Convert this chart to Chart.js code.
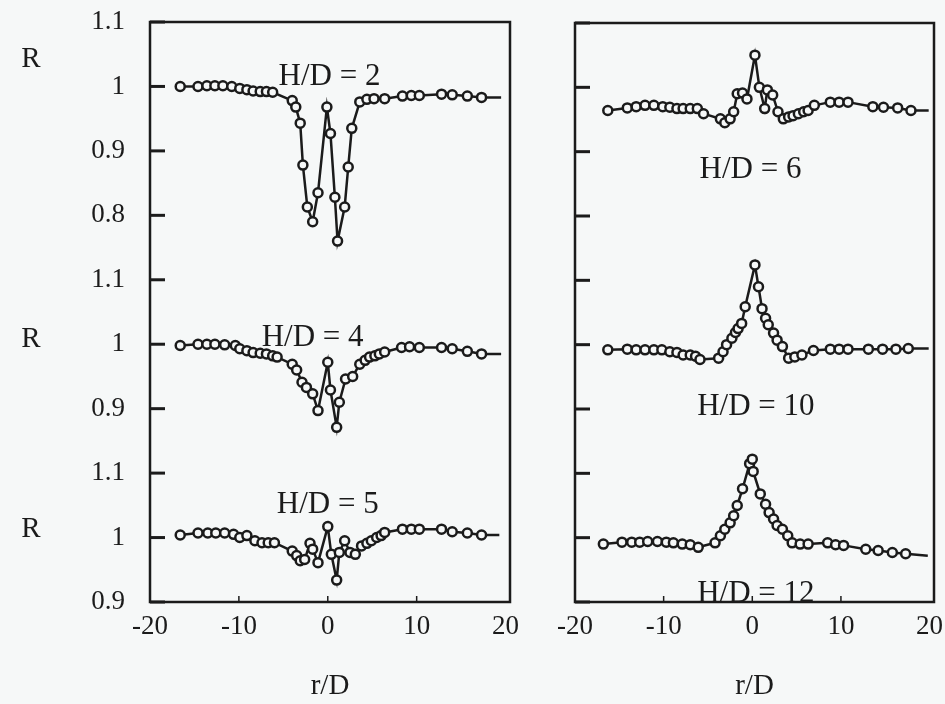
<!DOCTYPE html>
<html>
<head>
<meta charset="utf-8">
<script src="https://cdn.jsdelivr.net/npm/chart.js@4.4.1/dist/chart.umd.min.js"></script>
<style>
  html, body { margin: 0; padding: 0; background: #f6f8f8; }
  .wrap { position: relative; width: 945px; height: 704px; }
  canvas { position: absolute; left: 0; top: 0; }
</style>
</head>
<body>
<div class="wrap">
  <canvas id="leftChart" width="945" height="704"></canvas>
  <canvas id="rightChart" width="945" height="704"></canvas>
</div>
<script>
// r/D positions and R values (last point = where the line runs on past the markers)
const hd2R = [-16.6, -14.6, -13.6, -12.7, -11.8, -10.8, -9.9, -9.1, -8.4, -7.6, -6.9, -6.2, -4.0, -3.6, -3.1, -2.8, -2.3, -1.7, -1.1, -0.1, 0.3, 0.8, 1.1, 1.9, 2.3, 2.7, 3.6, 4.4, 5.2, 6.4, 8.4, 9.4, 10.3, 12.8, 14.0, 15.7, 17.3, 19.5];
const hd2Val = [1.000, 1.000, 1.001, 1.001, 1.001, 1.000, 0.997, 0.995, 0.993, 0.992, 0.992, 0.991, 0.978, 0.968, 0.943, 0.878, 0.813, 0.790, 0.835, 0.968, 0.927, 0.828, 0.760, 0.813, 0.875, 0.935, 0.976, 0.980, 0.981, 0.981, 0.985, 0.986, 0.986, 0.988, 0.987, 0.985, 0.983, 0.983];

const hd4R = [-16.6, -14.6, -13.6, -12.7, -11.6, -10.4, -9.9, -9.1, -8.4, -7.6, -6.9, -6.2, -5.7, -4.0, -3.5, -2.9, -2.4, -1.7, -1.1, 0.0, 0.3, 1.0, 1.3, 2.0, 2.8, 3.6, 4.2, 4.7, 5.3, 5.8, 6.4, 8.3, 9.2, 10.3, 12.8, 14.0, 15.7, 17.3, 19.5];
const hd4Val = [0.998, 1.000, 1.000, 1.000, 0.999, 0.998, 0.993, 0.990, 0.987, 0.986, 0.985, 0.982, 0.980, 0.969, 0.960, 0.941, 0.933, 0.923, 0.897, 0.972, 0.929, 0.871, 0.910, 0.946, 0.950, 0.969, 0.975, 0.980, 0.982, 0.985, 0.988, 0.995, 0.996, 0.995, 0.995, 0.993, 0.989, 0.985, 0.985];

const hd5R = [-16.6, -14.6, -13.5, -12.6, -11.6, -10.6, -9.9, -9.1, -8.2, -7.4, -6.7, -6.0, -4.0, -3.5, -3.1, -2.6, -2.0, -1.7, -1.1, 0.0, 0.4, 1.0, 1.3, 1.9, 2.5, 3.1, 3.8, 4.4, 4.9, 5.5, 6.0, 6.4, 8.4, 9.4, 10.3, 12.8, 14.0, 15.7, 17.3, 19.3];
const hd5Val = [1.004, 1.007, 1.007, 1.007, 1.007, 1.005, 1.000, 1.003, 0.995, 0.992, 0.992, 0.992, 0.979, 0.972, 0.964, 0.966, 0.991, 0.982, 0.961, 1.017, 0.974, 0.934, 0.977, 0.995, 0.977, 0.974, 0.987, 0.991, 0.995, 1.000, 1.003, 1.008, 1.013, 1.013, 1.013, 1.013, 1.009, 1.007, 1.004, 1.004];

const hd6R = [-16.3, -14.1, -13.1, -12.1, -11.1, -10.1, -9.3, -8.5, -7.8, -7.0, -6.2, -5.5, -3.6, -3.1, -2.5, -2.1, -1.7, -1.1, -0.6, 0.3, 0.8, 1.4, 1.7, 2.3, 2.9, 3.5, 4.1, 4.6, 5.2, 5.8, 6.3, 7.0, 8.8, 9.8, 10.8, 13.6, 14.8, 16.4, 17.9, 19.9];
const hd6Val = [0.964, 0.968, 0.970, 0.972, 0.972, 0.970, 0.969, 0.967, 0.967, 0.967, 0.967, 0.959, 0.951, 0.945, 0.951, 0.962, 0.990, 0.991, 0.982, 1.050, 1.000, 0.967, 0.996, 0.988, 0.962, 0.951, 0.954, 0.956, 0.959, 0.962, 0.964, 0.972, 0.977, 0.977, 0.977, 0.970, 0.969, 0.968, 0.964, 0.964];

const hd10R = [-16.3, -14.1, -13.1, -12.1, -11.1, -10.2, -9.3, -8.5, -7.8, -7.0, -6.4, -5.9, -3.8, -3.3, -2.9, -2.3, -1.9, -1.6, -1.2, -0.8, 0.3, 0.7, 1.1, 1.5, 1.8, 2.4, 2.8, 3.4, 4.1, 4.8, 5.6, 6.9, 8.8, 9.8, 10.8, 13.1, 14.7, 16.2, 17.6, 19.9];
const hd10Val = [0.992, 0.993, 0.992, 0.992, 0.992, 0.992, 0.989, 0.988, 0.984, 0.984, 0.982, 0.977, 0.979, 0.989, 1.000, 1.010, 1.019, 1.025, 1.033, 1.059, 1.124, 1.090, 1.056, 1.041, 1.031, 1.018, 1.007, 0.997, 0.979, 0.981, 0.984, 0.991, 0.993, 0.993, 0.993, 0.993, 0.993, 0.993, 0.994, 0.994];

const hd12R = [-16.8, -14.7, -13.6, -12.7, -11.8, -10.7, -9.7, -8.9, -7.9, -7.0, -6.1, -4.2, -3.6, -3.1, -2.5, -2.1, -1.7, -1.1, -0.3, 0.0, 0.1, 0.9, 1.5, 1.9, 2.4, 2.8, 3.4, 4.0, 4.5, 5.4, 6.3, 8.5, 9.4, 10.3, 12.8, 14.2, 15.8, 17.3, 19.8];
const hd12Val = [0.990, 0.993, 0.993, 0.993, 0.994, 0.994, 0.993, 0.992, 0.990, 0.989, 0.985, 0.992, 1.003, 1.013, 1.023, 1.034, 1.050, 1.076, 1.115, 1.122, 1.103, 1.068, 1.052, 1.039, 1.029, 1.019, 1.013, 1.003, 0.992, 0.990, 0.990, 0.992, 0.989, 0.988, 0.982, 0.980, 0.977, 0.975, 0.972];

// stacked axis: each curve sits on its own R = 1 line (tick slots from the bottom)
const xTicks = [-20, -10, 0, 10, 20];
const ySlots = [0, 1, 2, 3, 4, 5, 6, 7, 8, 9];
const yTickLabels = ["0.9", "1", "1.1", "0.9", "1", "1.1", "0.8", "0.9", "1", "1.1"];

const ink = "#1b1b1b";
const paper = "#f6f8f8";
const serifName = "'Liberation Serif', 'Times New Roman', serif";
const tickFont = { family: serifName, size: 27 };

function toDataset(rs, vals, base) {
  const last = rs.length - 1;
  return {
    data: rs.map((x, i) => ({ x, y: base + (vals[i] - 1) * 10 })),
    showLine: true,
    borderColor: ink,
    borderWidth: 2.5,
    pointRadius: (c) => (c.dataIndex === last ? 0 : 4.5),
    pointBackgroundColor: paper,
    pointBorderColor: ink,
    pointBorderWidth: 2.5,
  };
}

const framePlugin = {
  id: "frame",
  afterDraw(chart, args, opts) {
    const { ctx, chartArea: a, scales } = chart;
    ctx.save();
    ctx.strokeStyle = ink;
    ctx.lineWidth = 2.5;
    ctx.strokeRect(a.left, a.top, a.right - a.left, a.bottom - a.top);

    ctx.lineWidth = 3;
    ySlots.forEach((v) => {
      const y = scales.y.getPixelForValue(v);
      ctx.beginPath();
      ctx.moveTo(a.left, y);
      ctx.lineTo(a.left + 15, y);
      ctx.stroke();
    });
    ctx.lineWidth = 1.5;
    xTicks.slice(1, -1).forEach((v) => {
      const x = scales.x.getPixelForValue(v);
      ctx.beginPath();
      ctx.moveTo(x, a.bottom);
      ctx.lineTo(x, a.bottom - 6);
      ctx.stroke();
    });

    ctx.fillStyle = ink;
    ctx.font = "31px " + serifName;
    ctx.textAlign = "center";
    ctx.textBaseline = "middle";
    opts.notes.forEach((n) => {
      ctx.fillText(n.text, scales.x.getPixelForValue(n.x), scales.y.getPixelForValue(n.y));
    });
    ctx.font = "29px " + serifName;
    (opts.sideNotes || []).forEach((n) => {
      ctx.fillText(n.text, n.px, scales.y.getPixelForValue(n.y));
    });
    ctx.restore();
  },
};

function makeChart(id, datasets, cfg) {
  return new Chart(document.getElementById(id), {
    type: "scatter",
    data: { datasets },
    plugins: [framePlugin],
    options: {
      responsive: false,
      animation: false,
      layout: { padding: { top: cfg.top, right: cfg.right, left: 0, bottom: 0 } },
      plugins: {
        legend: { display: false },
        tooltip: { enabled: false },
        frame: { notes: cfg.notes, sideNotes: cfg.sideNotes },
      },
      scales: {
        x: {
          type: "linear",
          min: -20,
          max: 20.5,
          afterBuildTicks: (s) => { s.ticks = xTicks.map((v) => ({ value: v })); },
          afterFit: (s) => {
            s.height = 102;
            s.paddingLeft = 0;
            s.paddingRight = 0;
          },
          grid: { display: false, drawTicks: false },
          border: { display: false },
          ticks: { font: tickFont, color: ink, padding: 9, callback: (v) => String(v) },
          title: { display: true, text: "r/D", font: { family: serifName, size: 29 }, color: ink, padding: 0 },
        },
        y: {
          type: "linear",
          min: 0,
          max: 9,
          afterBuildTicks: (s) => { s.ticks = ySlots.map((v) => ({ value: v })); },
          afterFit: (s) => {
            s.width = cfg.yWidth;
            s.paddingTop = 0;
            s.paddingBottom = 0;
          },
          grid: { display: false, drawTicks: false },
          border: { display: false },
          ticks: {
            display: cfg.yLabels,
            font: tickFont,
            color: ink,
            padding: 25,
            callback: (v) => yTickLabels[v],
          },
        },
      },
    },
  });
}

makeChart(
  "leftChart",
  [toDataset(hd2R, hd2Val, 8), toDataset(hd4R, hd4Val, 4), toDataset(hd5R, hd5Val, 1)],
  {
    top: 22, right: 435, yWidth: 150, yLabels: true,
    notes: [
      { text: "H/D = 2", x: 0.2, y: 8.15 },
      { text: "H/D = 4", x: -1.7, y: 4.1 },
      { text: "H/D = 5", x: 0, y: 1.5 },
    ],
    sideNotes: [
      { text: "R", px: 31, y: 8.42 },
      { text: "R", px: 31, y: 4.07 },
      { text: "R", px: 31, y: 1.12 },
    ],
  }
);

makeChart(
  "rightChart",
  [toDataset(hd6R, hd6Val, 8), toDataset(hd10R, hd10Val, 4), toDataset(hd12R, hd12Val, 1)],
  {
    top: 23, right: 11, yWidth: 575, yLabels: false,
    notes: [
      { text: "H/D = 6", x: -0.2, y: 6.72 },
      { text: "H/D = 10", x: 0.4, y: 3.04 },
      { text: "H/D = 12", x: 0.4, y: 0.12 },
    ],
  }
);
</script>
</body>
</html>
